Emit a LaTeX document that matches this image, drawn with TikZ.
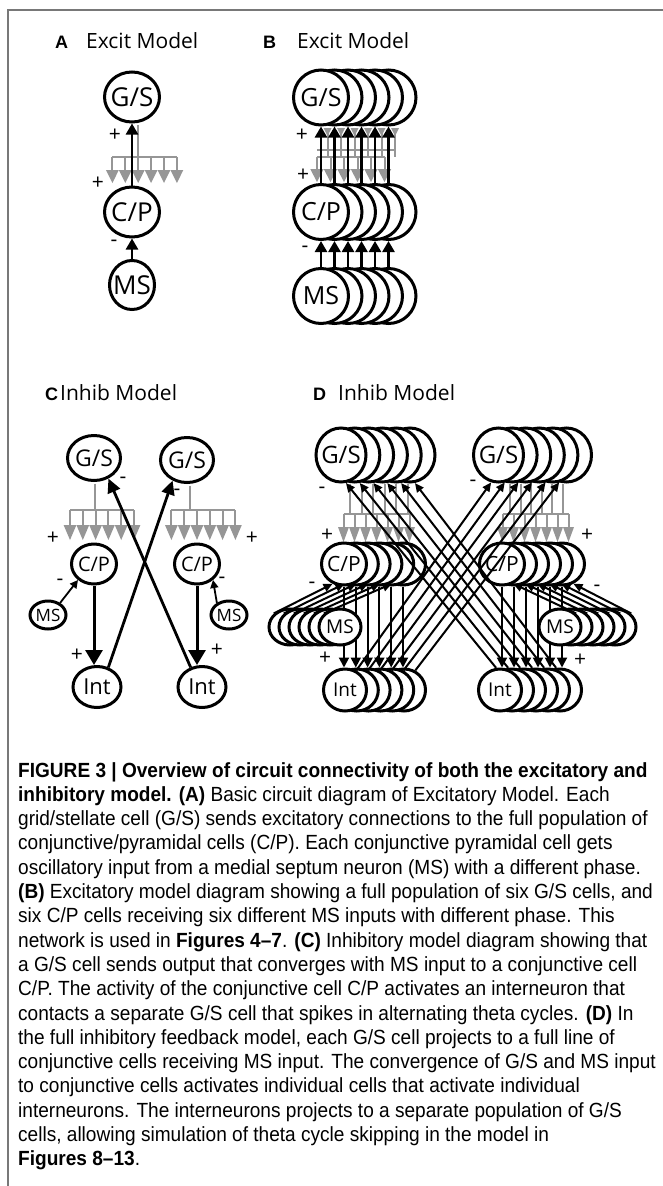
\documentclass[tikz,border=0pt]{standalone}
\usepackage{fontspec}
\setmainfont{Open Sans}
\newfontfamily\capfont[FakeStretch=0.93]{Liberation Sans}
\newfontfamily\tagfont{Liberation Sans}
\usetikzlibrary{arrows.meta,shapes.geometric,calc}
\definecolor{fangray}{RGB}{150,150,150}
\definecolor{framegray}{RGB}{120,120,120}

% a row of overlapping cells, drawn back to front; #6 = index of the last one, #7 = shift per cell
\newcommand\cellstack[9]{%
  \foreach \k in {#6,...,1}{%
    \node[cell, minimum width=#4pt, minimum height=#5pt] (#1-\k) at ({#2+\k*(#7)},#3) {};
  }%
  \node[cell, minimum width=#4pt, minimum height=#5pt] (#1-0) at (#2,#3) {};
  \node[celltext, font=\fontsize{#8}{#8}\selectfont] (#1-t) at (#1-0) {#9};
}
% a single cell with its label
\newcommand\onecell[7]{%
  \node[cell, minimum width=#4pt, minimum height=#5pt] (#1) at (#2,#3) {};
  \node[celltext, font=\fontsize{#6}{#6}\selectfont] (#1-t) at (#1) {#7};
}
% grey fan-out: bar at y=#2 from x=#1, #3 drops spaced #4, drop length #5, triangle height #6
\newcommand\grayfan[6]{%
  \pgfmathtruncatemacro\fanlast{#3-1}%
  \draw[fanline] (#1,#2) -- ({#1+\fanlast*(#4)},#2);
  \foreach \k in {0,...,\fanlast}{%
    \draw[fanline] ({#1+\k*(#4)},#2) -- ++(0,#5);
    \fill[fangray] ({#1+\k*(#4)-(#4)/2},{#2+#5}) -- ++(#4,0) -- ({#1+\k*(#4)},{#2+#5+#6}) -- cycle;
  }%
}

\begin{document}
\begin{tikzpicture}[x=1pt,y=-1pt,
  cell/.style={ellipse, draw, line width=3pt, fill=white, inner sep=0pt},
  celltext/.style={inner sep=0pt},
  fanline/.style={draw=fangray, line width=2pt},
  sign/.style={inner sep=0pt, font=\fontsize{21}{21}\selectfont},
  tag/.style={anchor=base west, inner sep=0pt, font=\tagfont\bfseries\fontsize{18}{18}\selectfont},
  title/.style={anchor=base west, inner sep=0pt, font=\fontsize{21}{21}\selectfont},
  bigarrow/.style={line width=2.5pt, -{Triangle[width=12pt,length=11pt]}},
  carrow/.style={line width=3pt, -{Triangle[width=17pt,length=15pt]}},
  xarrow/.style={line width=2.8pt, -{Triangle[width=13pt,length=14pt]}},
  thinarrow/.style={line width=1.8pt, -{Triangle[width=8pt,length=8pt]}},
  darrow/.style={line width=2pt, -{Triangle[width=10pt,length=10pt]}},
  farrow/.style={line width=2pt, -{Triangle[width=8pt,length=9pt]}}
]
\useasboundingbox (0,0) rectangle (662,1186);
\draw[framegray, line width=1.5pt] (8,1190) -- (8,10) -- (665,10);

% ---------------- A: excitatory model, one cell per layer
\node[tag] (tagA) at (55,48) {A};
\node[title] (titA) at (86,48) {Excit Model};
\onecell{A-GS}{132}{97}{55}{50}{26}{G/S}
\onecell{A-CP}{132}{212}{55}{50}{26}{C/P}
\onecell{A-MS}{132}{285}{45}{49}{26}{MS}
\coordinate (A-bar) at (138,157);
\draw[fanline] ($(A-bar |- A-GS.south)+(0,1.5)$) -- (A-bar);
\grayfan{112.4}{157}{6}{12.9}{13}{13}
\draw[bigarrow] (A-CP.north) -- (A-GS.south);
\draw[bigarrow] (A-MS.north) -- (A-CP.south);
\node[sign] (A-s1) at (115,135) {+};
\node[sign] (A-s2) at (98,183) {+};
\node[sign] (A-s3) at (114,243) {-};

% ---------------- B: excitatory model, six cells per layer
\node[tag] (tagB) at (263,48) {B};
\node[title] (titB) at (297,48) {Excit Model};
\cellstack{B-GS}{321}{97.5}{55}{55}{5}{13.5}{25}{G/S}
\cellstack{B-CP}{321}{212}{55}{55}{5}{13.5}{25}{C/P}
\cellstack{B-MS}{321}{296}{55}{55}{5}{13.5}{25}{MS}
\foreach \i in {0,...,5}{%
  \fill[fangray] ({327.5+13.5*\i-4},128) -- ++(8,0) -- ++(-4,8) -- cycle;
  \draw[fanline] ({327.5+13.5*\i},128) -- ({327.5+13.5*\i},157);
}
\draw[fanline] (317,150) -- (395,150);
\grayfan{317}{157}{6}{13.5}{12}{13}
\foreach \i in {0,...,5}{%
  \draw[bigarrow] (B-CP-\i.north) -- (B-GS-\i.south);
  \draw[bigarrow] (B-MS-\i.north) -- (B-CP-\i.south);
}
\node[sign] (B-s1) at (302,135) {+};
\node[sign] (B-s2) at (303,175) {+};
\node[sign] (B-s3) at (305,249) {-};

% ---------------- C: inhibitory model, one cell per layer
\node[tag] (tagC) at (45,400) {C};
\node[title] (titC) at (60,400) {Inhib Model};
\onecell{C-GS-L}{94}{458}{53}{45}{23}{G/S}
\onecell{C-GS-R}{187}{460}{53}{45}{23}{G/S}
\coordinate (C-barL) at (95,510);
\coordinate (C-barR) at (190,510);
\draw[fanline] ($(C-barL |- C-GS-L.south)+(0,1.5)$) -- (C-barL);
\draw[fanline] ($(C-barR |- C-GS-R.south)+(0,1.5)$) -- (C-barR);
\grayfan{70}{510}{6}{12.8}{15}{15}
\grayfan{171.4}{510}{6}{12.8}{15}{15}
\onecell{C-CP-L}{94}{564}{45}{40}{20}{C/P}
\onecell{C-CP-R}{197}{564}{45}{40}{20}{C/P}
\onecell{C-MS-L}{48}{615}{36}{28}{17}{MS}
\onecell{C-MS-R}{229}{615}{36}{28}{17}{MS}
\onecell{C-Int-L}{97}{687}{48}{41}{22}{Int}
\onecell{C-Int-R}{202}{687}{48}{41}{22}{Int}
\draw[thinarrow] (C-MS-L.45) -- (C-CP-L.-135);
\draw[thinarrow] (C-MS-R.135) -- (C-CP-R.-45);
\draw[carrow] (C-CP-L.south) -- (C-CP-L.south |- C-Int-L.north);
\draw[carrow] (C-CP-R.south) -- (C-CP-R.south |- C-Int-R.north);
\draw[xarrow] (C-Int-L.60) -- (C-GS-R.-125);
\draw[xarrow] (C-Int-R.120) -- (C-GS-L.-55);
\node[sign] (C-s1) at (123,480) {-};
\node[sign] (C-s2) at (177,492) {-};
\node[sign] (C-s3) at (53,538) {+};
\node[sign] (C-s4) at (252,538) {+};
\node[sign] (C-s5) at (60,582) {-};
\node[sign] (C-s6) at (222,580) {-};
\node[sign] (C-s7) at (77,655) {+};
\node[sign] (C-s8) at (217,650) {+};

% ---------------- D: inhibitory model, six cells per layer
\node[tag] (tagD) at (313,400) {D};
\node[title] (titD) at (338,400) {Inhib Model};
% grey fan-outs from each G/S row
\foreach \i in {0,...,5}{%
  \draw[fanline] ({350+11.5*\i},484) -- ({350+11.5*\i},514);
  \draw[fanline] ({510+10.5*\i},484) -- ({510+10.5*\i},514);
}
\grayfan{343.5}{514}{7}{11}{13}{15}
\grayfan{502.5}{514}{7}{11}{13}{15}
\cellstack{D-GS-L}{341}{455}{50}{54}{5}{13.8}{24}{G/S}
\cellstack{D-GS-R}{498.5}{455}{50}{54}{5}{13.6}{24}{G/S}
\cellstack{D-CP-L}{344}{564}{45}{42}{5}{11.8}{21}{C/P}
\cellstack{D-CP-R}{502}{564}{45}{42}{5}{12}{21}{C/P}
\cellstack{D-Int-L}{345}{690}{43}{42}{5}{11.8}{19}{Int}
\cellstack{D-Int-R}{500}{690}{43}{42}{5}{12}{19}{Int}
\foreach \i in {0,...,5}{%
  \draw[darrow] (D-CP-L-\i.south) -- (D-CP-L-\i.south |- D-Int-L-\i.north);
  \draw[darrow] (D-CP-R-\i.south) -- (D-CP-R-\i.south |- D-Int-R-\i.north);
}
\foreach \i in {0,...,5}{%
  \draw[farrow] (D-Int-L-\i.60) -- (D-GS-R-\i.-105);
  \draw[farrow] (D-Int-R-\i.100) -- (D-GS-L-\i.-80);
}
\cellstack{D-MS-L}{340}{627}{42}{36}{5}{-10}{19}{MS}
\cellstack{D-MS-R}{560}{627}{42}{36}{5}{11}{19}{MS}
\foreach \i in {0,...,5}{%
  \pgfmathtruncatemacro\j{5-\i}
  \draw[farrow] (D-MS-L-\i.140) -- (D-CP-L-\j.-120);
  \draw[farrow] (D-MS-R-\i.40) -- (D-CP-R-\i.-60);
}
\node[sign] (D-s1) at (322,490) {-};
\node[sign] (D-s2) at (473,483) {-};
\node[sign] (D-s3) at (327,535) {+};
\node[sign] (D-s4) at (587,535) {+};
\node[sign] (D-s5) at (312,585) {-};
\node[sign] (D-s6) at (597,588) {-};
\node[sign] (D-s7) at (325,658) {+};
\node[sign] (D-s8) at (580,660) {+};

% ---------------- caption
\node[anchor=north west, inner sep=0pt, align=left,
      font=\capfont\fontsize{20.5}{24.3}\selectfont] (caption) at (18,762) {%
\textbf{FIGURE 3 | Overview of circuit connectivity of both the excitatory and}\\
\textbf{inhibitory model. (A)} Basic circuit diagram of Excitatory Model. Each\\
grid/stellate cell (G/S) sends excitatory connections to the full population of\\
conjunctive/pyramidal cells (C/P). Each conjunctive pyramidal cell gets\\
oscillatory input from a medial septum neuron (MS) with a different phase.\\
\textbf{(B)} Excitatory model diagram showing a full population of six G/S cells, and\\
six C/P cells receiving six different MS inputs with different phase. This\\
network is used in \textbf{Figures 4–7}. \textbf{(C)} Inhibitory model diagram showing that\\
a G/S cell sends output that converges with MS input to a conjunctive cell\\
C/P. The activity of the conjunctive cell C/P activates an interneuron that\\
contacts a separate G/S cell that spikes in alternating theta cycles. \textbf{(D)} In\\
the full inhibitory feedback model, each G/S cell projects to a full line of\\
conjunctive cells receiving MS input. The convergence of G/S and MS input\\
to conjunctive cells activates individual cells that activate individual\\
interneurons. The interneurons projects to a separate population of G/S\\
cells, allowing simulation of theta cycle skipping in the model in\\
\textbf{Figures 8–13}.};
\end{tikzpicture}
\end{document}
